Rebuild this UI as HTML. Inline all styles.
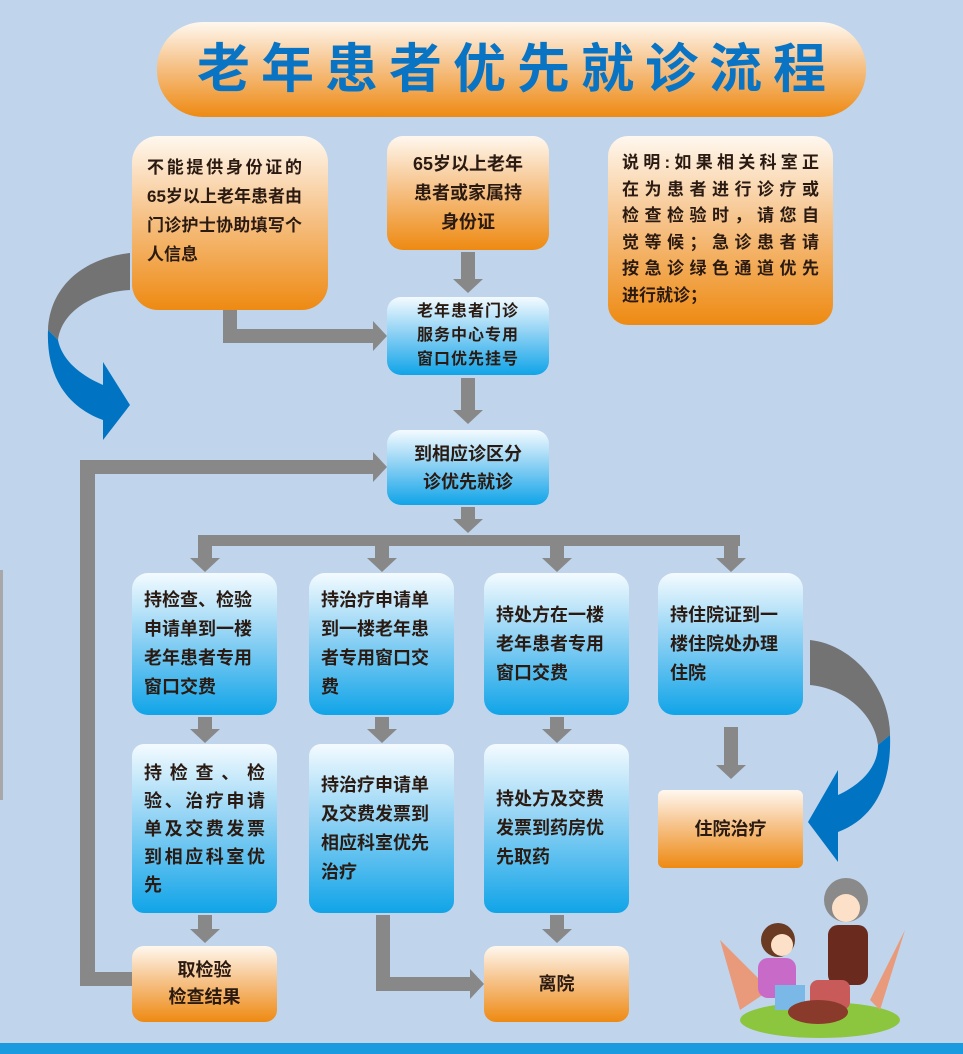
<!DOCTYPE html>
<html><head><meta charset="utf-8"><style>
*{margin:0;padding:0;box-sizing:border-box}
body{width:963px;height:1054px;background:#c0d4ec;position:relative;overflow:hidden;font-family:"Liberation Sans","Noto Sans CJK SC",sans-serif;font-weight:bold;color:#2a1a12}
.b{position:absolute;display:flex;flex-direction:column;justify-content:center;font-size:18px;line-height:29px;padding:0 12px}
.o{background:linear-gradient(#fff8ef 0%,#f6c38a 45%,#ee8a12 100%)}
.u{background:linear-gradient(#f4fbff 0%,#8fd2f4 45%,#10a4e8 100%)}
.c{text-align:center;align-items:center}
.j div{text-align:justify;text-align-last:justify;white-space:nowrap}
.j div.l{text-align-last:left}
svg{position:absolute;left:0;top:0}
</style></head><body>
<svg width="963" height="1054">
<g fill="#888">
<polygon points="461,252 475,252 475,279 483,279 468,293 453,279 461,279"/>
<polygon points="461,378 475,378 475,410 483,410 468,424 453,410 461,410"/>
<polygon points="461,507 475,507 475,519 483,519 468,533 453,519 461,519"/>
<rect x="198" y="535" width="542" height="11"/>
<polygon points="198,546 212,546 212,558 220,558 205,572 190,558 198,558"/>
<polygon points="375,546 389,546 389,558 397,558 382,572 367,558 375,558"/>
<polygon points="550,546 564,546 564,558 572,558 557,572 542,558 550,558"/>
<polygon points="724,546 738,546 738,558 746,558 731,572 716,558 724,558"/>
<polygon points="198,717 212,717 212,729 220,729 205,743 190,729 198,729"/>
<polygon points="375,717 389,717 389,729 397,729 382,743 367,729 375,729"/>
<polygon points="550,717 564,717 564,729 572,729 557,743 542,729 550,729"/>
<polygon points="724,727 738,727 738,765 746,765 731,779 716,765 724,765"/>
<polygon points="198,915 212,915 212,929 220,929 205,943 190,929 198,929"/>
<polygon points="550,915 564,915 564,929 572,929 557,943 542,929 550,929"/>
<polygon points="376,915 390,915 390,977 470,977 470,969 484,984 470,999 470,991 376,991"/>
<polygon points="132,972 132,986 80,986 80,460 373,460 373,452 387,467 373,482 373,474 95,474 95,972"/>
<polygon points="223,310 237,310 237,329 373,329 373,321 387,336 373,351 373,343 223,343"/>
<rect x="0" y="570" width="3" height="230" fill="#a8a8a8"/>
</g>
<path d="M130,253 C85,258 50,285 48,330 L58,340 C62,310 95,292 130,290 Z" fill="#737373"/>
<path d="M48,330 C46,380 70,408 103,420 L103,440 L130,405 L103,362 L103,385 C80,375 62,360 58,340 Z" fill="#0074c2"/>
<path d="M810,640 C855,645 890,690 890,735 L878,745 C875,715 845,688 810,685 Z" fill="#737373"/>
<path d="M890,735 C892,790 870,820 838,832 L838,862 L808,822 L838,770 L838,795 C860,785 878,768 878,745 Z" fill="#0074c2"/>
<ellipse cx="820" cy="1020" rx="80" ry="18" fill="#8cc63f"/>
<path d="M740,1010 L720,940 L770,990 Z M880,1010 L905,930 L870,1000 Z" fill="#e89a7a"/>
<circle cx="846" cy="900" r="22" fill="#8a8a8a"/>
<circle cx="846" cy="908" r="14" fill="#fde0c8"/>
<rect x="828" y="925" width="40" height="60" rx="10" fill="#6a2a1e"/>
<rect x="810" y="980" width="40" height="30" rx="8" fill="#c85a5a"/>
<circle cx="778" cy="940" r="17" fill="#6a3a22"/>
<circle cx="782" cy="945" r="11" fill="#fde0c8"/>
<rect x="758" y="958" width="38" height="40" rx="10" fill="#c86ac8"/>
<rect x="775" y="985" width="30" height="25" fill="#7ab8e8"/>
<ellipse cx="818" cy="1012" rx="30" ry="12" fill="#8a3a2a"/>
<rect x="0" y="1043" width="963" height="11" fill="#1a9be0"/>
</svg>
<div class="b o c" style="left:157px;top:22px;width:709px;height:95px;border-radius:46px;font-size:53px;line-height:60px;color:#0a74c4;letter-spacing:11px;padding:0 0 0 11px;white-space:nowrap">老年患者优先就诊流程</div>
<div class="b o j" style="left:132px;top:136px;width:196px;height:174px;border-radius:26px;font-size:17px;line-height:29px;justify-content:flex-start;padding:17px 26px 0 15px"><div>不能提供身份证的</div><div>65岁以上老年患者由</div><div>门诊护士协助填写个</div><div class="l">人信息</div></div>
<div class="b o c" style="left:387px;top:136px;width:162px;height:114px;border-radius:16px;line-height:29px">65岁以上老年<br>患者或家属持<br>身份证</div>
<div class="b o j" style="left:608px;top:136px;width:225px;height:189px;border-radius:20px;font-size:17px;line-height:26.5px;justify-content:flex-start;padding:14px 14px 0 14px"><div>说明:如果相关科室正</div><div>在为患者进行诊疗或</div><div>检查检验时，请您自</div><div>觉等候；急诊患者请</div><div>按急诊绿色通道优先</div><div class="l">进行就诊；</div></div>
<div class="b u c" style="left:387px;top:297px;width:162px;height:78px;border-radius:14px;font-size:16px;line-height:24px;letter-spacing:1px">老年患者门诊<br>服务中心专用<br>窗口优先挂号</div>
<div class="b u c" style="left:387px;top:430px;width:162px;height:75px;border-radius:14px;line-height:28px">到相应诊区分<br>诊优先就诊</div>
<div class="b u" style="left:132px;top:573px;width:145px;height:142px;border-radius:16px">持检查、检验<br>申请单到一楼<br>老年患者专用<br>窗口交费</div>
<div class="b u" style="left:309px;top:573px;width:145px;height:142px;border-radius:16px">持治疗申请单<br>到一楼老年患<br>者专用窗口交<br>费</div>
<div class="b u" style="left:484px;top:573px;width:145px;height:142px;border-radius:16px">持处方在一楼<br>老年患者专用<br>窗口交费</div>
<div class="b u" style="left:658px;top:573px;width:145px;height:142px;border-radius:16px">持住院证到一<br>楼住院处办理<br>住院</div>
<div class="b u j" style="left:132px;top:744px;width:145px;height:169px;border-radius:12px;line-height:28px"><div>持检查、检</div><div>验、治疗申请</div><div>单及交费发票</div><div>到相应科室优</div><div class="l">先</div></div>
<div class="b u" style="left:309px;top:744px;width:145px;height:169px;border-radius:12px">持治疗申请单<br>及交费发票到<br>相应科室优先<br>治疗</div>
<div class="b u" style="left:484px;top:744px;width:145px;height:169px;border-radius:12px">持处方及交费<br>发票到药房优<br>先取药</div>
<div class="b o c" style="left:658px;top:790px;width:145px;height:78px;border-radius:6px">住院治疗</div>
<div class="b o c" style="left:132px;top:946px;width:145px;height:76px;border-radius:12px;line-height:27px">取检验<br>检查结果</div>
<div class="b o c" style="left:484px;top:946px;width:145px;height:76px;border-radius:12px">离院</div>
</body></html>
